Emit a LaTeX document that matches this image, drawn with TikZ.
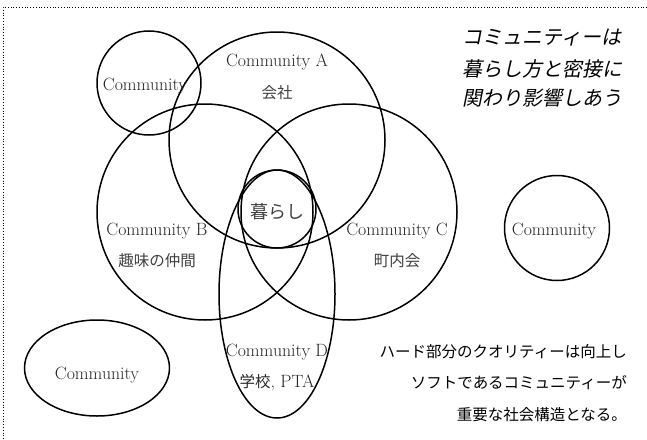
\documentclass[tikz,border=0pt]{standalone}
\usepackage{fontspec}
\usetikzlibrary{shapes.geometric}
\newfontfamily\jp{Noto Sans CJK JP}
\newfontfamily\jpsl[FakeSlant=0.2]{Noto Sans CJK JP}
\begin{document}
\begin{tikzpicture}[x=1pt,y=-1pt,
  ring/.style={circle,draw,line width=1.5pt,inner sep=0pt},
  oval/.style={ellipse,draw,line width=1.5pt,inner sep=0pt},
  en/.style={font=\fontsize{17.8}{21}\selectfont,text=black!85,inner sep=0pt},
  ja/.style={font=\jp\fontsize{15.5}{18}\selectfont,text=black!75,inner sep=0pt},
  note/.style={font=\jpsl\fontsize{20}{24}\selectfont,inner sep=0pt,anchor=west},
  remark/.style={font=\jp\fontsize{15.5}{18}\selectfont,inner sep=0pt,anchor=east}]
\useasboundingbox (0,0) rectangle (647,439);
% frame
\coordinate (fTL) at (3,7);
\coordinate (fTR) at (647,7);
\coordinate (fBL) at (3,439);
\draw[dotted,line width=0.8pt] (fTR) -- (fTL) -- (fBL);
% circles
\node[ring,minimum size=104pt] (S1) at (149,83) {};
\node[ring,minimum size=216pt] (A) at (277,140) {};
\node[ring,minimum size=216pt] (B) at (205,212) {};
\node[ring,minimum size=216pt] (C) at (349,212) {};
\node[oval,minimum width=116pt,minimum height=248pt] (D) at (277,294) {};
\node[ring,minimum size=78pt] (K) at (277,209) {};
\node[ring,minimum size=105pt] (S2) at (557,228) {};
\node[oval,minimum width=145pt,minimum height=96pt] (S3) at (97,368) {};
% labels
\node[en] (lS1) at (145,86) {Community};
\node[en] (lA) at (277,62) {Community A};
\node[ja] (jA) at (277,93) {会社};
\node[en] (lB) at (157,231) {Community B};
\node[ja] (jB) at (157,261) {趣味の仲間};
\node[en] (lC) at (397,231) {Community C};
\node[ja] (jC) at (397,261) {町内会};
\node[en] (lD) at (277,352) {Community D};
\node[en] (jD) at (277,383) {{\jp\fontsize{15.5}{18}\selectfont 学校}, PTA};
\node[ja,font=\jp\fontsize{18}{21}\selectfont] (lK) at (277,212) {暮らし};
\node[en] (lS2) at (554,231) {Community};
\node[en] (lS3) at (97,375) {Community};
% notes
\node[note] (n1) at (462,38) {コミュニティーは};
\node[note] (n2) at (462,69) {暮らし方と密接に};
\node[note] (n3) at (462,98) {関わり影響しあう};
\node[remark] (r1) at (627,352) {ハード部分のクオリティーは向上し};
\node[remark] (r2) at (627,383) {ソフトであるコミュニティーが};
\node[remark] (r3) at (627,415) {重要な社会構造となる。};
\end{tikzpicture}
\end{document}
